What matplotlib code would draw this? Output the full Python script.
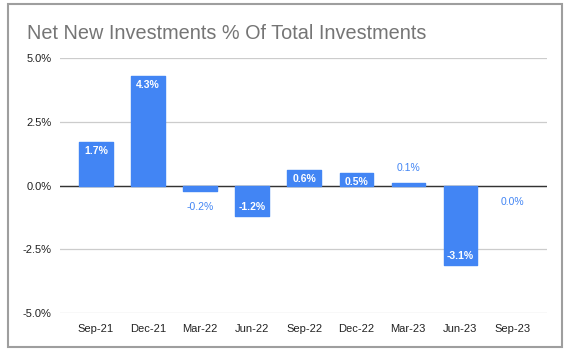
import matplotlib.pyplot as plt
from matplotlib.patches import Rectangle

quarters = ['Sep-21', 'Dec-21', 'Mar-22', 'Jun-22', 'Sep-22', 'Dec-22', 'Mar-23', 'Jun-23', 'Sep-23']
net_new_pct = [1.7, 4.3, -0.2, -1.2, 0.6, 0.5, 0.1, -3.1, 0.0]
y_ticks = [5.0, 2.5, 0.0, -2.5, -5.0]

BLUE = '#4285F4'

plt.rcParams['font.family'] = ['Liberation Sans', 'DejaVu Sans']

fig = plt.figure(figsize=(5.67, 3.51), dpi=100)
ax = fig.add_axes([0.106, 0.108, 0.859, 0.727])

x = list(range(len(quarters)))
edges = [BLUE if v != 0 else 'none' for v in net_new_pct]
ax.bar(x, net_new_pct, width=0.64, color=BLUE, edgecolor=edges,
       linewidth=1.0, joinstyle='round', zorder=3)

# подписи значений: внутри столбца или снаружи, если столбец маленький
for i, v in enumerate(net_new_pct):
    txt = f'{v:.1f}%'
    if abs(v) >= 0.3:
        off = -9 if v > 0 else 9
        ax.annotate(txt, (i, v), xytext=(0, off), textcoords='offset pixels',
                    ha='center', va='center', color='white', fontsize=7.5,
                    fontweight='bold', zorder=4)
    else:
        off = 15 if v > 0 else -16
        ax.annotate(txt, (i, v), xytext=(0, off), textcoords='offset pixels',
                    ha='center', va='center', color=BLUE, fontsize=7.5, zorder=4)

ax.set_xlim(-0.69, 8.67)
ax.set_ylim(-5.0, 5.0)
ax.set_yticks(y_ticks)
ax.set_yticklabels([f'{t:.1f}%' for t in y_ticks])
ax.set_xticks(x)
ax.set_xticklabels(quarters)
ax.tick_params(axis='both', length=0, labelsize=8, colors='#222222')
ax.tick_params(axis='y', pad=6)
ax.tick_params(axis='x', pad=8)

ax.grid(axis='y', color='#cccccc', linewidth=0.9, zorder=0)
ax.axhline(0, color='#333333', linewidth=1.0, zorder=2)
for s in ax.spines.values():
    s.set_visible(False)

fig.text(0.048, 0.905, 'Net New Investments % Of Total Investments',
         fontsize=14.3, color='#757575', ha='left', va='center')

# рамка вокруг всей диаграммы
fig.patches.append(Rectangle((8 / 567, 4 / 351), 554 / 567, 343 / 351,
                             transform=fig.transFigure, fill=False,
                             edgecolor='#9e9e9e', linewidth=1.5))

fig.savefig('out.png', dpi=100)
